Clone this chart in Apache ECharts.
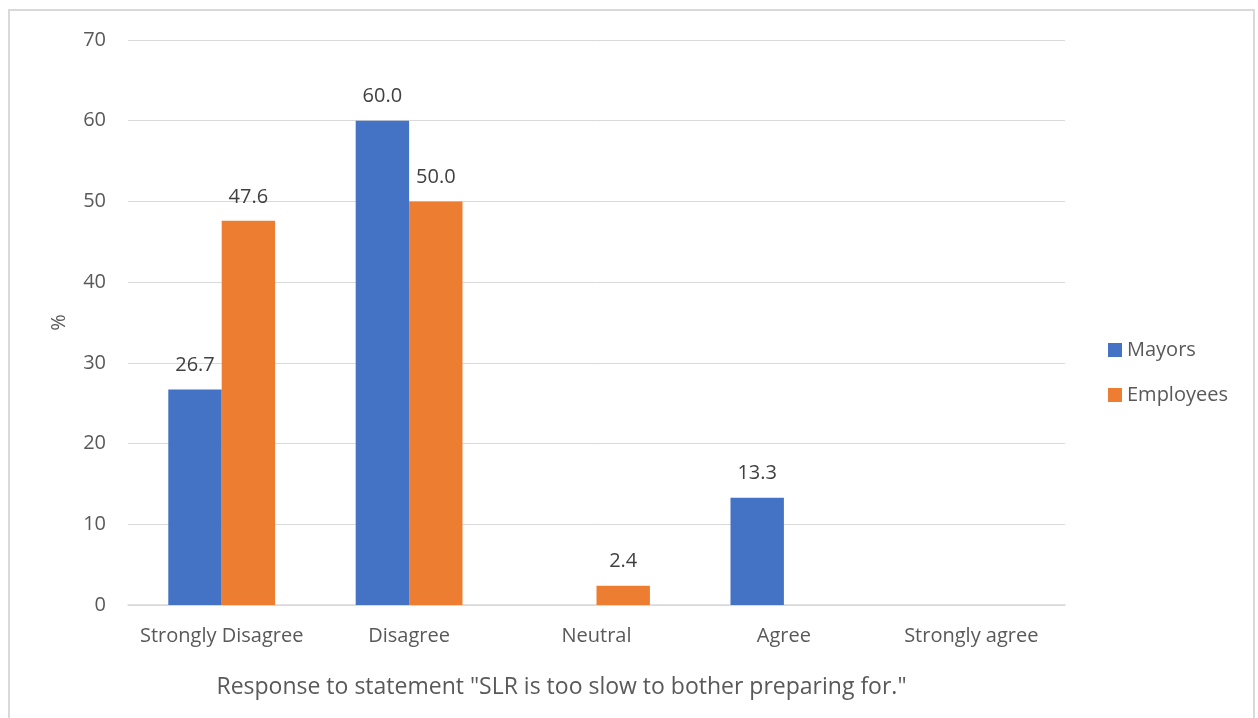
<!DOCTYPE html>
<html>
<head>
<meta charset="utf-8">
<script src="https://cdn.jsdelivr.net/npm/echarts@6/dist/echarts.min.js"></script>
<style>
  html, body { margin: 0; padding: 0; background: #fff; }
  #chart { position: absolute; left: 0; top: 0; width: 1258px; height: 718px; }
  #frame { position: absolute; left: 8px; top: 9px; width: 1247px; height: 720px;
           border: 2px solid #d9d9d9; box-sizing: border-box; pointer-events: none; }
</style>
</head>
<body>
<div id="chart"></div>
<div id="frame"></div>
<script>
const categories = ['Strongly Disagree', 'Disagree', 'Neutral', 'Agree', 'Strongly agree'];
const mayors = [26.7, 60.0, null, 13.3, null];
const employees = [47.6, 50.0, 2.4, null, null];
const yTicks = { min: 0, max: 70, interval: 10 };

const FONT = '"Open Sans", "Noto Sans", sans-serif';
const chart = echarts.init(document.getElementById('chart'));

const labelStyle = {
  show: true,
  position: 'top',
  distance: 14,
  color: '#404040',
  fontSize: 20,
  fontFamily: FONT,
  formatter: p => p.value == null ? '' : Number(p.value).toFixed(1)
};

chart.setOption({
  animation: false,
  textStyle: { fontFamily: FONT },
  grid: { left: 128, right: 193, top: 40, bottom: 113 },
  legend: {
    orient: 'vertical',
    left: 1103,
    top: 335,
    itemWidth: 14,
    itemHeight: 14,
    itemGap: 25,
    icon: 'rect',
    textStyle: { color: '#595959', fontSize: 20, fontFamily: FONT },
    data: ['Mayors', 'Employees']
  },
  xAxis: {
    type: 'category',
    data: categories,
    name: 'Response to statement "SLR is too slow to bother preparing for."',
    nameLocation: 'middle',
    nameGap: 71,
    nameTextStyle: { color: '#595959', fontSize: 23, fontFamily: FONT, padding: [0, 70, 0, 0] },
    axisLine: { lineStyle: { color: '#d9d9d9', width: 1.5 } },
    axisTick: { show: false },
    axisLabel: { color: '#595959', fontSize: 20, fontFamily: FONT, margin: 21, interval: 0 }
  },
  yAxis: {
    type: 'value',
    min: yTicks.min,
    max: yTicks.max,
    interval: yTicks.interval,
    name: '%',
    nameLocation: 'middle',
    nameGap: 59,
    nameTextStyle: { color: '#595959', fontSize: 20, fontFamily: FONT },
    axisLine: { show: false },
    axisTick: { show: false },
    axisLabel: { color: '#595959', fontSize: 20, fontFamily: FONT, margin: 22 },
    splitLine: { lineStyle: { color: '#d9d9d9', width: 1 } }
  },
  series: [
    {
      name: 'Mayors',
      type: 'bar',
      data: mayors,
      itemStyle: { color: '#4472C4' },
      barGap: '0%',
      barCategoryGap: '43%',
      label: labelStyle
    },
    {
      name: 'Employees',
      type: 'bar',
      data: employees,
      itemStyle: { color: '#ED7D31' },
      barGap: '0%',
      barCategoryGap: '43%',
      label: labelStyle
    }
  ]
});
</script>
</body>
</html>
